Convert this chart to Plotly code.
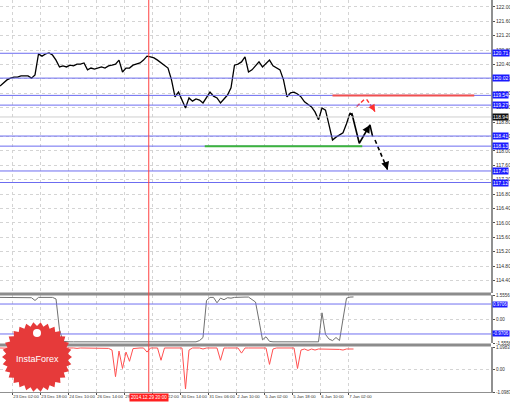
import math
import plotly.graph_objects as go

# H1 bar index (every second bar)
bars = list(range(0, 204, 2))

close = [
    119.80, 119.88, 119.97, 120.02, 120.05, 120.05, 120.08, 120.08, 120.08, 120.02,
    120.11, 120.69, 120.63, 120.69, 120.72, 120.66, 120.52, 120.33, 120.36, 120.33,
    120.38, 120.36, 120.41, 120.41, 120.44, 120.25, 120.30, 120.27, 120.30, 120.33,
    120.30, 120.36, 120.38, 120.41, 120.52, 120.19, 120.30, 120.30, 120.38, 120.41,
    120.44, 120.52, 120.63, 120.61, 120.58, 120.52, 120.44, 120.36, 120.30, 119.97,
    119.50, 119.63, 119.41, 119.19, 119.47, 119.38, 119.44, 119.41, 119.33, 119.47,
    119.63, 119.52, 119.47, 119.33, 119.44, 119.55, 119.75, 120.38, 120.41, 120.47,
    120.61, 120.19, 120.25, 120.36, 120.47, 120.33, 120.44, 120.52, 120.36, 120.30,
    120.25, 119.97, 119.50, 119.61, 119.63, 119.58, 119.50, 119.36, 119.30, 119.22,
    119.08, 118.86, 119.19, 119.13, 118.72, 118.30, 118.38, 118.44, 118.50, 118.75,
    119.05, 118.94,
]

osc = [
    1.40, 1.40, 1.40, 1.40, 1.40, 1.40, 1.40, 1.40, 1.40, 1.38,
    1.20, 1.40, 1.40, 1.40, 1.40, 1.40, 1.30, -0.70, -1.45, -1.48,
    -1.48, -1.48, -1.48, -1.48, -1.48, -1.48, -1.48, -1.48, -1.48, -1.48,
    -1.48, -1.48, -1.48, -1.48, -1.48, -1.48, -1.48, -1.48, -1.48, -1.48,
    -1.48, -1.48, -1.44, -1.48, -1.48, -1.48, -1.48, -1.48, -1.48, -1.48,
    -1.48, -1.48, -1.48, -1.48, -1.48, -1.48, -1.48, -1.40, -1.20, 1.20,
    1.40, 1.40, 1.05, 1.35, 1.25, 1.38, 1.35, 1.40, 1.42, 1.42,
    1.42, 1.42, 1.25, 1.10, -0.10, -1.35, -1.15, -1.45, -1.48, -1.48,
    -1.48, -1.48, -1.48, -1.48, -1.48, -1.48, -1.48, -1.48, -1.48, -1.48,
    -1.48, -1.48, 0.40, -1.00, -1.30, -1.40, -1.20, -1.40, 0.00, 1.35,
    1.42, 1.43,
]

red_ind = [
    1.05, 1.04, 1.05, 1.05, 1.03, 1.05, 1.05, 1.04, 1.05, 1.05,
    1.05, 1.04, 1.05, 1.05, 1.02, 0.45, 1.05, 1.05, 1.04, 1.05,
    1.05, 1.05, 1.03, 1.05, 1.05, 1.05, 1.04, 1.05, 1.05, 1.05,
    1.05, 1.03, 0.95, -0.35, 0.90, 0.05, 0.85, 0.40, 1.02, 1.05,
    1.05, 1.05, 0.85, 1.05, 1.05, 1.05, 0.45, 1.05, 1.05, 1.05,
    1.05, 1.05, 1.05, -0.95, 0.95, 1.05, 1.05, 1.05, 1.00, 1.05,
    1.05, 1.05, 1.05, 0.45, 1.05, 1.05, 1.05, 1.05, 1.05, 0.80,
    1.05, 1.05, 1.05, 1.05, 1.05, 1.05, 1.05, 0.25, 1.00, 1.05,
    1.05, 1.05, 1.05, 1.05, 1.05, 0.05, 0.95, 1.00, 0.93, 1.00,
    0.95, 1.00, 1.00, 0.98, 1.00, 1.00, 1.00, 0.98, 0.95, 1.00,
    1.00, 1.00,
]

levels = [120.71, 120.02, 119.54, 119.27, 118.41, 118.13, 117.44, 117.12]
osc_levels = [0.9706, -0.9706]

time_ticks = [7, 23, 39, 55, 71, 87, 103, 119, 135, 151, 167, 183, 199]
time_labels = ["23 Dec 02:00", "23 Dec 18:00", "24 Dec 10:00", "26 Dec 14:00",
               "29 Dec 06:00", "29 Dec 22:00", "30 Dec 14:00", "31 Dec 06:00",
               "2 Jan 10:00", "5 Jan 02:00", "5 Jan 18:00", "6 Jan 10:00", "7 Jan 02:00"]
price_ticks = [122.00, 121.60, 121.20, 120.80, 120.40, 120.00, 119.60, 119.20, 118.80,
               118.40, 118.00, 117.60, 117.20, 116.80, 116.40, 116.00, 115.60, 115.20,
               114.80, 114.40]

marker_bar = 85  # 2014.12.29 20:00
red_level = (119.54, 190, 271)
green_level = (118.13, 117, 207)
black_path = [(201, 119.05), (205.3, 118.21), (211.4, 118.72), (212.9, 118.40)]
black_dash = [(214.3, 118.30), (221.5, 117.47)]
red_path1 = [(203.8, 119.23), (208.2, 119.43)]
red_path2 = [(209.5, 119.43), (214.3, 119.09)]

last_price = close[-1]
W, H = 491, 392  # plot area in px
GRID = "#d4d4d4"
FONT = dict(family="Liberation Sans", size=5, color="#303030")
SFONT = dict(family="Liberation Sans", size=4.5, color="#303030")
XFONT = dict(family="Liberation Sans", size=4.3, color="#303030")
LFONT = dict(family="Liberation Sans", size=5, color="white")

fig = go.Figure()
fig.add_trace(go.Scatter(x=bars, y=close, mode="lines", line=dict(color="black", width=1.3),
                         xaxis="x", yaxis="y"))
fig.add_trace(go.Scatter(x=bars, y=osc, mode="lines", line=dict(color="#707070", width=1),
                         xaxis="x", yaxis="y2"))
fig.add_trace(go.Scatter(x=bars, y=red_ind, mode="lines", line=dict(color="#ff5050", width=1),
                         xaxis="x", yaxis="y3"))

# forecast sketch
fig.add_trace(go.Scatter(x=[p[0] for p in black_path], y=[p[1] for p in black_path],
                         mode="lines", line=dict(color="black", width=1.6)))
fig.add_trace(go.Scatter(x=[p[0] for p in black_dash], y=[p[1] for p in black_dash],
                         mode="lines", line=dict(color="black", width=1.6, dash="4px,3px")))
for seg in (red_path1, red_path2):
    fig.add_trace(go.Scatter(x=[p[0] for p in seg], y=[p[1] for p in seg], mode="lines",
                             line=dict(color="#ff3030", width=1.4, dash="4px,2px")))

shapes = []
for lv in levels:
    shapes.append(dict(type="line", xref="paper", x0=0, x1=1, yref="y", y0=lv, y1=lv,
                       line=dict(color="#6c6cf0", width=1)))
shapes.append(dict(type="line", xref="paper", x0=0, x1=1, yref="y", y0=last_price,
                   y1=last_price, line=dict(color="#cfcfcf", width=1)))
shapes.append(dict(type="line", xref="x", x0=red_level[1], x1=red_level[2], yref="y",
                   y0=red_level[0], y1=red_level[0], line=dict(color="#f05050", width=2)))
shapes.append(dict(type="line", xref="x", x0=green_level[1], x1=green_level[2], yref="y",
                   y0=green_level[0], y1=green_level[0], line=dict(color="#3cb43c", width=2)))
for lv in osc_levels:
    shapes.append(dict(type="line", xref="paper", x0=0, x1=1, yref="y2", y0=lv, y1=lv,
                       line=dict(color="#7070f0", width=1)))
for py in (294, 345):
    yp = (H - py) / H
    shapes.append(dict(type="line", xref="paper", x0=0, x1=1, yref="paper", y0=yp, y1=yp,
                       line=dict(color="#8c8c8c", width=3)))
shapes.append(dict(type="line", xref="x", x0=marker_bar, x1=marker_bar, yref="paper",
                   y0=0, y1=1, line=dict(color="#ff4040", width=1)))

# InstaForex badge
cx, cy, r1, r2, n = 37, 357, 35, 31, 30
pts = []
for k in range(2 * n):
    r = r1 if k % 2 == 0 else r2
    a = math.pi * k / n
    pts.append(((cx + r * math.cos(a)) / W, (H - (cy + r * math.sin(a))) / H))
path = "M " + " L ".join(f"{x:.4f},{y:.4f}" for x, y in pts) + " Z"
shapes.append(dict(type="path", xref="paper", yref="paper", path=path,
                   fillcolor="#e63a3a", line=dict(color="#e63a3a", width=0)))
shapes.append(dict(type="circle", xref="paper", yref="paper",
                   x0=(cx - 4) / W, x1=(cx + 4) / W, y0=(H - 337) / H, y1=(H - 329) / H,
                   fillcolor="white", line=dict(width=0)))

annotations = []


def label(text, y, yref, bg, font=LFONT):
    annotations.append(dict(text=text, xref="paper", x=1, xanchor="left", xshift=1,
                            yref=yref, y=y, yanchor="middle", showarrow=False, bgcolor=bg,
                            borderpad=0, font=font))


for lv in levels:
    label(f"{lv:.2f}", lv, "y", "#1a1aff")
label(f"{last_price:.2f}", last_price, "y", "#111111")
for lv in osc_levels:
    label(f"{lv:.4f}", lv, "y2", "#1a1aff",
          dict(family="Liberation Sans", size=4.5, color="white"))

annotations.append(dict(text="2014.12.29 20:00", xref="x", x=marker_bar, xanchor="center",
                        yref="paper", y=0, yanchor="top", yshift=-1, showarrow=False,
                        bgcolor="#ff2020", borderpad=1,
                        font=dict(family="Liberation Sans", size=4.6, color="white")))
annotations.append(dict(text="InstaForex", xref="paper", x=cx / W, xanchor="center",
                        yref="paper", y=(H - 359) / H, yanchor="middle", showarrow=False,
                        font=dict(family="Liberation Sans", size=9, color="white")))

# arrow heads
annotations.append(dict(xref="x", yref="y", x=black_path[2][0], y=black_path[2][1],
                        axref="x", ayref="y", ax=209.5, ay=118.56, text="", showarrow=True,
                        arrowhead=2, arrowsize=1, arrowwidth=1.6, arrowcolor="black"))
annotations.append(dict(xref="x", yref="y", x=black_dash[1][0], y=black_dash[1][1],
                        axref="x", ayref="y", ax=220.0, ay=117.7, text="", showarrow=True,
                        arrowhead=2, arrowsize=1, arrowwidth=1.6, arrowcolor="black"))
annotations.append(dict(xref="x", yref="y", x=red_path2[1][0], y=red_path2[1][1],
                        axref="x", ayref="y", ax=213.0, ay=119.2, text="", showarrow=True,
                        arrowhead=2, arrowsize=1, arrowwidth=1.4, arrowcolor="#ff3030"))

ycommon = dict(side="right", anchor="x", showgrid=True, gridcolor=GRID, griddash="dot",
               zeroline=False, ticks="outside", ticklen=2, tickcolor="#505050",
               showline=True, linecolor="#909090", linewidth=2, automargin=False)

fig.update_layout(
    width=510, height=403,
    margin=dict(l=0, r=19, t=0, b=11),
    paper_bgcolor="white", plot_bgcolor="white",
    showlegend=False,
    xaxis=dict(range=[0, W / 1.75], anchor="y3", tickvals=time_ticks, ticktext=time_labels,
               tickangle=0, ticks="outside", ticklen=2, tickcolor="#505050", tickfont=XFONT,
               ticklabelposition="outside right", showgrid=True, gridcolor=GRID,
               griddash="dot", zeroline=False, showline=True, linecolor="#909090",
               automargin=False),
    yaxis=dict(domain=[(H - 293) / H, 1], range=[114.05, 122.19], tickvals=price_ticks,
               ticktext=[f"{v:.2f}" for v in price_ticks], tickfont=FONT, **ycommon),
    yaxis2=dict(domain=[(H - 343) / H, (H - 295) / H], range=[-1.5556, 1.5556],
                tickvals=[1.5556, 0, -1.5556], ticktext=["1.5556", "0.00", "-1.5556"],
                tickfont=SFONT, **ycommon),
    yaxis3=dict(domain=[0, (H - 347) / H], range=[-1.0983, 1.0983],
                tickvals=[1.0983, 0, -1.0983], ticktext=["1.0983", "0.00", "-1.0983"],
                tickfont=SFONT, **ycommon),
    shapes=shapes,
    annotations=annotations,
)

fig.write_html("out.html", config={"displayModeBar": False},
               post_script="document.body.style.margin='0';"
               "document.body.style.overflow='hidden';")
